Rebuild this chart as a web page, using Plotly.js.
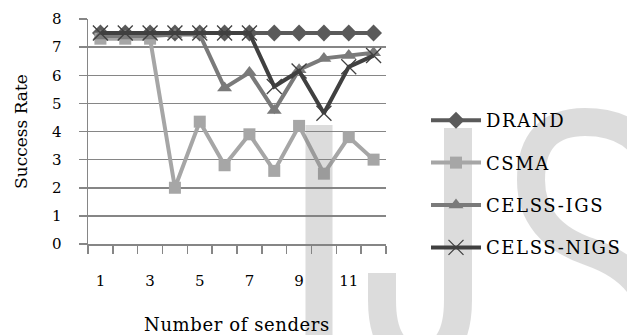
<!DOCTYPE html>
<html>
<head>
<meta charset="utf-8">
<script src="https://cdn.plot.ly/plotly-3.0.1.min.js"></script>
<style>
html,body{margin:0;padding:0;background:#fff;}
#chart{width:627px;height:335px;}
.legendtext{letter-spacing:1.6px;}
.xtitle{letter-spacing:0.6px;}
</style>
</head>
<body>
<div id="chart"></div>
<script>
const senders = ["1","2","3","4","5","6","7","8","9","10","11","12"];
const xTickLabels = ["1","","3","","5","","7","","9","","11",""];
const yTickVals = [0,1,2,3,4,5,6,7,8];
const drand = [7.5,7.5,7.5,7.5,7.5,7.5,7.5,7.5,7.5,7.5,7.5,7.5];
const csma = [7.3,7.3,7.3,2.0,4.35,2.8,3.9,2.6,4.2,2.5,3.8,3.0];
const celssIgs = [7.4,7.4,7.4,7.45,7.45,5.55,6.1,4.75,6.2,6.6,6.7,6.8];
const celssNigs = [7.5,7.5,7.5,7.5,7.5,7.5,7.5,5.6,6.15,4.65,6.3,6.7];

const W = 627, H = 335;
const ML = 88, MR = 241, MT = 19, MB = 91;
const PW = W - ML - MR, PH = H - MT - MB;
function px(x){ return ((x - ML) / PW).toFixed(4); }
function py(y){ return (1 - (y - MT) / PH).toFixed(4); }

const fontSerif = "DejaVu Serif, Liberation Serif, serif";
const axisGray = "#868686";

const traces = [
  {x: senders, y: drand, name: "DRAND", mode: "lines+markers", legendgroup: "a",
   line: {color: "#5a5a5a", width: 4}, marker: {symbol: "diamond", size: 13, color: "#5a5a5a"}},
  {x: senders, y: csma, name: "CSMA", mode: "lines+markers", legendgroup: "b",
   line: {color: "#a6a6a6", width: 4}, marker: {symbol: "square", size: 12, color: "#a6a6a6"}},
  {x: senders, y: celssIgs, name: "CELSS-IGS", mode: "lines+markers", legendgroup: "c",
   line: {color: "#7a7a7a", width: 4}, marker: {symbol: "triangle-up", size: 13, color: "#7a7a7a"}},
  {x: senders, y: celssNigs, name: "CELSS-NIGS", mode: "lines+markers", legendgroup: "d",
   line: {color: "#404040", width: 4}, marker: {symbol: "x-thin-open", size: 15, color: "#404040", line: {width: 1.3, color: "#404040"}}}
];

const wm = "rgba(128,128,128,1)";
const shapes = [
  {type: "path", xref: "paper", yref: "paper", layer: "above", opacity: 0.27,
   path: "M" + px(319) + "," + py(125) + " L" + px(319) + "," + py(345), line: {color: wm, width: 27}},
  {type: "path", xref: "paper", yref: "paper", layer: "above", opacity: 0.27,
   path: "M" + px(458) + "," + py(128) + " L" + px(458) + "," + py(300) +
         " Q" + px(458) + "," + py(356) + " " + px(420) + "," + py(356) +
         " Q" + px(382) + "," + py(356) + " " + px(382) + "," + py(300) +
         " L" + px(382) + "," + py(273),
   line: {color: wm, width: 28}},
  {type: "path", xref: "paper", yref: "paper", layer: "above", opacity: 0.27,
   path: "M" + px(655) + "," + py(170) +
         " Q" + px(640) + "," + py(122) + " " + px(585) + "," + py(122) +
         " Q" + px(531) + "," + py(122) + " " + px(531) + "," + py(180) +
         " Q" + px(531) + "," + py(232) + " " + px(590) + "," + py(252) +
         " Q" + px(652) + "," + py(274) + " " + px(652) + "," + py(325) +
         " Q" + px(652) + "," + py(385) + " " + px(590) + "," + py(385),
   line: {color: wm, width: 28}}
];

const layout = {
  width: W, height: H,
  margin: {l: ML, r: MR, t: MT, b: MB, pad: 0},
  paper_bgcolor: "#ffffff", plot_bgcolor: "#ffffff",
  font: {family: fontSerif, color: "#000000"},
  showlegend: true,
  legend: {xref: "container", yref: "container", x: 426/627, y: 1 - 102/335, xanchor: "left", yanchor: "top",
           font: {family: fontSerif, size: 18, color: "#000"}, traceorder: "grouped", tracegroupgap: 16,
           itemwidth: 50, bgcolor: "rgba(0,0,0,0)"},
  xaxis: {type: "category", range: [-0.5, 11.5], tickmode: "array", tickvals: senders, ticktext: xTickLabels,
          tickangle: 0, tickson: "boundaries", ticks: "outside", ticklen: 8, tickcolor: axisGray, tickwidth: 1.5,
          showgrid: false, zeroline: false, showline: true, linecolor: axisGray, linewidth: 1.5,
          tickfont: {family: fontSerif, size: 15}, ticklabelstandoff: 22,
          title: {text: "Number of senders", font: {family: fontSerif, size: 18}, standoff: 30}},
  yaxis: {range: [0, 8], tickmode: "array", tickvals: yTickVals,
          ticks: "outside", ticklen: 8, tickcolor: axisGray, tickwidth: 1.5,
          ticklabelposition: "outside", ticklabelstandoff: 14,
          showgrid: true, gridcolor: axisGray, gridwidth: 1.5, zeroline: false,
          showline: true, linecolor: axisGray, linewidth: 1.5,
          tickfont: {family: fontSerif, size: 15},
          title: {text: "Success Rate", font: {family: fontSerif, size: 17}, standoff: 20}},
  shapes: shapes
};

Plotly.newPlot("chart", traces, layout, {displayModeBar: false, staticPlot: true});
</script>
</body>
</html>
